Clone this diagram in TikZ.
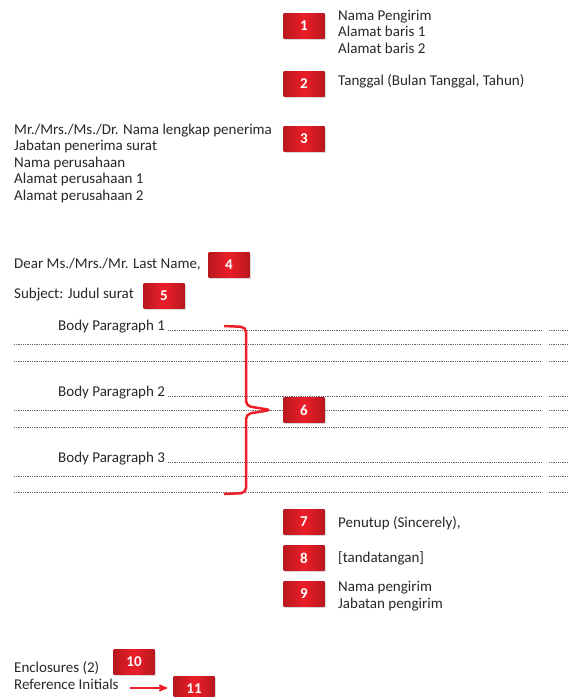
\documentclass[tikz,border=0pt]{standalone}
\usepackage{fontspec}
\setmainfont{Carlito}
\usetikzlibrary{calc}
\usetikzlibrary{arrows}
\usetikzlibrary{shadows}

\definecolor{boxred}{RGB}{236,30,40}
\definecolor{inkgray}{RGB}{40,40,40}

\tikzset{
  numbox/.style={minimum width=41pt, minimum height=25pt, inner sep=0pt,
    left color=boxred!78!black, right color=boxred!78!black, middle color=boxred,
    drop shadow={shadow xshift=1pt, shadow yshift=-1.5pt, opacity=0.3},
    text=white, font=\fontsize{15}{15}\selectfont\bfseries},
  txt/.style={anchor=base west, inner sep=0pt, align=left, text=inkgray,
    font=\fontsize{15}{16.5}\selectfont},
  dotline/.style={black!60, line width=0.8pt, dash pattern=on 0.7pt off 1.1pt}
}

\begin{document}
\begin{tikzpicture}[x=1pt, y=-1pt]
\useasboundingbox[fill=white] (0,0) rectangle (569,697);
\clip (0,0) rectangle (569,697);

% texts (multi-line nodes sit on their last baseline)
\node[txt] (sender) at (338,53) {Nama Pengirim\\Alamat baris 1\\Alamat baris 2};
\node[txt] (date) at (338,85) {Tanggal (Bulan Tanggal, Tahun)};
\node[txt] (inside) at (14,200) {Mr./Mrs./Ms./Dr. Nama lengkap penerima\\Jabatan penerima surat\\Nama perusahaan\\Alamat perusahaan 1\\Alamat perusahaan 2};
\node[txt] (salut) at (14,268) {Dear Ms./Mrs./Mr. Last Name,};
\node[txt] (subj) at (14,298) {Subject: Judul surat};
\node[txt] (bp1) at (58,330) {Body Paragraph 1};
\node[txt] (bp2) at (58,396) {Body Paragraph 2};
\node[txt] (bp3) at (58,462) {Body Paragraph 3};
\node[txt] (close) at (338,527) {Penutup (Sincerely),};
\node[txt] (sign) at (338,562) {[tandatangan]};
\node[txt] (name) at (338,608) {Nama pengirim\\Jabatan pengirim};
\node[txt] (encl) at (14,689) {Enclosures (2)\\Reference Initials};

% dotted lines
\coordinate (dotend) at (541,0);
\coordinate (dotgap) at (549,0);
\coordinate (edge) at (569,0);
\foreach \p in {bp1,bp2,bp3} {
  \draw[dotline] ($(\p.base east)+(3,0)$) -- (\p.base east -| dotend);
  \draw[dotline] (\p.base east -| dotgap) -- (\p.base east -| edge);
}
\foreach \y in {344,361,410,427,476,492} {
  \draw[dotline] (14,\y) -- (541,\y);
  \draw[dotline] (549,\y) -- (569,\y);
}

% numbered boxes
\node[numbox] (b1) at (304,26) {1};
\node[numbox] (b2) at (304,84) {2};
\node[numbox] (b3) at (304,139) {3};
\node[numbox] (b4) at (229,265) {4};
\node[numbox] (b5) at (164,296) {5};
\node[numbox] (b6) at (304,410) {6};
\node[numbox] (b7) at (304,522) {7};
\node[numbox] (b8) at (304,558) {8};
\node[numbox] (b9) at (304,594) {9};
\node[numbox] (b10) at (134,662) {10};
\node[numbox] (b11) at (194,689) {11};

% brace to box 6
\coordinate (tip) at (271,410);
\draw[boxred, line width=2.5pt, rounded corners=5pt]
  (224,326) -- (246,327) -- (246,406) -- (tip) -- (246,414) -- (246,493) -- (224,494);

% arrow to box 11
\coordinate (arrstart) at (130,688);
\draw[boxred, line width=1.8pt, -stealth'] (arrstart) -- ($(arrstart -| b11.west)+(-6,0)$);
\end{tikzpicture}
\end{document}
